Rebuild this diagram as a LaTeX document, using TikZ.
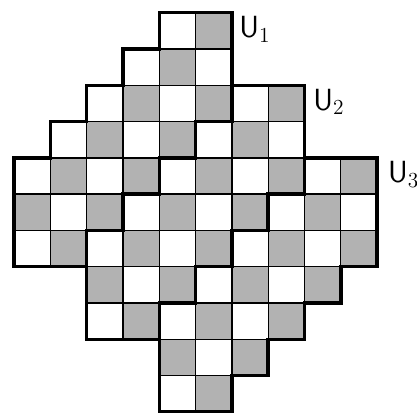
\RequirePackage{fix-cm}
\documentclass[tikz,border=0pt]{standalone}
\usetikzlibrary{positioning}

\begin{document}
\begin{tikzpicture}[
      cell/.style={draw=black, line width=1.1pt},
      border/.style={draw=black, line width=2.7pt, line join=miter, line cap=rect},
      lbl/.style={anchor=base west, inner sep=0pt, font=\fontsize{24}{28}\selectfont}
    ]
    \useasboundingbox (-0.39,-0.02) rectangle (11.10,11.35);
    % --- checkerboard, row by row (row/first column/last column) ---
    \foreach \r/\a/\b in {0/4/5, 1/3/5, 2/2/7, 3/1/7, 4/0/9, 5/0/9,
                          6/0/9, 7/2/8, 8/2/7, 9/4/6, 10/4/5} {
      \foreach \c in {\a,...,\b} {
        \pgfmathtruncatemacro{\shade}{30*mod(\r+\c,2)}
        \path[cell, fill=black!\shade] (\c,10-\r) rectangle ++(1,1);
      }
    }

    % --- outline of the whole board ---
    \draw[border] (4,11) -| (6,9) -| (8,7) -| (10,4) -| (9,3) -| (8,2)
      -| (7,1) -| (6,0) -| (4,2) -| (2,4) -| (0,7) -| (1,8) -| (2,9)
      -| (3,10) -- (4,10) -- cycle;
    % --- cuts between the parts ---
    \draw[border] (6,9) |- (5,8) |- (4,7) |- (3,6) |- (2,5) -- (2,4);
    \draw[border] (8,7) |- (7,6) |- (6,5) |- (5,4) |- (4,3) -- (4,2);

    \node[lbl] (u1) at (6.20,10.31) {\textsf{U}$_1$};
    \node[lbl] (u2) at (8.24,8.31) {\textsf{U}$_2$};
    \node[lbl] (u3) at (10.30,6.32) {\textsf{U}$_3$};
  \end{tikzpicture}
\end{document}
